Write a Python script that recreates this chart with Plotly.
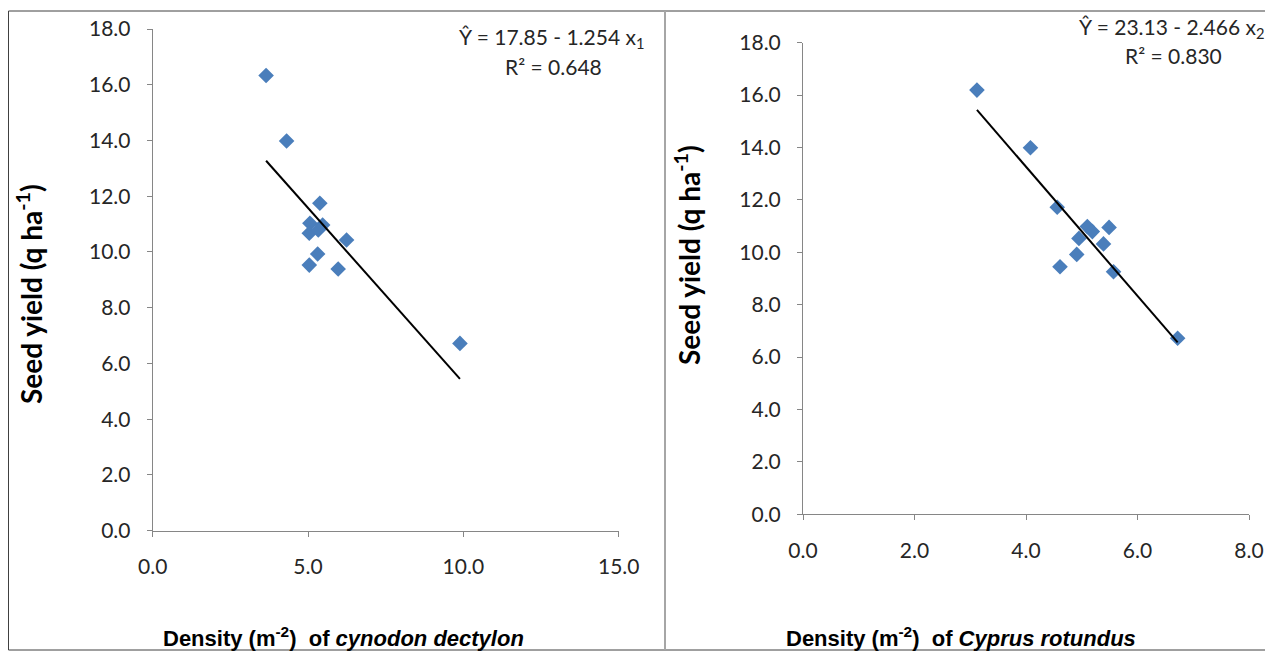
import plotly.graph_objects as go

# ---- data ----
cd_density = [3.65, 4.31, 5.38, 5.06, 5.47, 5.04, 5.33, 6.24, 5.31, 5.04, 5.97, 9.89]
cd_yield = [16.33, 13.98, 11.75, 11.03, 10.97, 10.67, 10.79, 10.43, 9.93, 9.53, 9.39, 6.72]
cr_density = [3.12, 4.08, 4.56, 5.10, 5.19, 5.49, 4.95, 5.39, 4.91, 4.61, 5.57, 6.72]
cr_yield = [16.19, 13.99, 11.72, 10.98, 10.79, 10.95, 10.53, 10.32, 9.92, 9.45, 9.26, 6.72]
cd_coef = [17.85, -1.254]
cr_coef = [23.13, -2.466]
eq_left = ["Ŷ = 17.85 - 1.254 x<sub>1</sub>", "R² = 0.648"]
eq_right = ["Ŷ = 23.13 - 2.466 x<sub>2</sub>", "R² = 0.830"]
ytitle = "Seed yield (q ha<sup>-1</sup>)"
xtitle_left = "Density (m<sup>-2</sup>)&nbsp; of <i>cynodon dectylon</i>"
xtitle_right = "Density (m<sup>-2</sup>)&nbsp; of <i>Cyprus rotundus</i>"

# page has an 8px body margin: figure covers page pixels 8..1273 / 8..653
OFF = 8
W, H = 1273 - OFF, 653 - OFF
BLUE = "#4a7ebb"
AXC = "#868686"

def fx(px):
    return (px - OFF) / W

def fy(py):
    return 1 - (py - OFF) / H

def fit_line(xs, coef):
    x0, x1 = min(xs), max(xs)
    return [x0, x1], [coef[0] + coef[1] * x0, coef[0] + coef[1] * x1]

fig = go.Figure()
fig.add_trace(go.Scatter(x=cd_density, y=cd_yield, mode="markers",
                         marker=dict(symbol="diamond", size=12, color=BLUE),
                         xaxis="x", yaxis="y", showlegend=False))
lx, ly = fit_line(cd_density, cd_coef)
fig.add_trace(go.Scatter(x=lx, y=ly, mode="lines", line=dict(color="black", width=2),
                         xaxis="x", yaxis="y", showlegend=False))
fig.add_trace(go.Scatter(x=cr_density, y=cr_yield, mode="markers",
                         marker=dict(symbol="diamond", size=12, color=BLUE),
                         xaxis="x2", yaxis="y2", showlegend=False))
rx, ry = fit_line(cr_density, cr_coef)
fig.add_trace(go.Scatter(x=rx, y=ry, mode="lines", line=dict(color="black", width=2),
                         xaxis="x2", yaxis="y2", showlegend=False))

tickfont = dict(family="Lato", size=21, color="#262626")
common = dict(showline=True, linecolor=AXC, linewidth=1, ticks="outside", ticklen=5,
              tickcolor=AXC, showgrid=False, zeroline=False, tickformat=".1f",
              tickfont=tickfont, ticklabelstandoff=12, automargin=False)

fig.update_layout(
    template="none",
    width=W, height=H, autosize=False,
    margin=dict(l=0, r=0, t=0, b=0, pad=0, autoexpand=False),
    paper_bgcolor="white", plot_bgcolor="white",
    xaxis=dict(domain=[fx(152.7), fx(618.7)], range=[0, 15], dtick=5, anchor="y", **common),
    yaxis=dict(domain=[fy(530.7), fy(29)], range=[0, 18], dtick=2, anchor="x", **common),
    xaxis2=dict(domain=[fx(803), fx(1249)], range=[0, 8], dtick=2, anchor="y2", **common),
    yaxis2=dict(domain=[fy(514.3), fy(42.7)], range=[0, 18], dtick=2, anchor="x2", **common),
)

ann = []
tfont = dict(family="Lato", size=28, color="black")
xfont = dict(family="Liberation Sans", size=22, color="black")
eqfont = dict(family="Lato", size=21, color="#262626")
def pa(x, y, text, font, angle=0):
    ann.append(dict(x=fx(x), y=fy(y), xref="paper", yref="paper", text=text,
                    showarrow=False, font=font, textangle=angle,
                    xanchor="center", yanchor="middle"))

pa(29, 294, "<b>" + ytitle + "</b>", tfont, -90)
pa(688, 255, "<b>" + ytitle + "</b>", tfont, -90)
pa(343, 637, "<b>" + xtitle_left + "</b>", xfont)
pa(961, 637, "<b>" + xtitle_right + "</b>", xfont)
pa(551, 38, eq_left[0], eqfont)
pa(553, 66, eq_left[1], eqfont)
pa(1171, 28, eq_right[0], eqfont)
pa(1173, 55, eq_right[1], eqfont)
fig.update_layout(annotations=ann)

fig.update_layout(shapes=[
    dict(type="rect", xref="paper", yref="paper", x0=fx(8.5), x1=fx(1270),
         y0=fy(650), y1=fy(11), line=dict(color="#404040", width=1)),
    dict(type="line", xref="paper", yref="paper", x0=fx(665), x1=fx(665),
         y0=fy(650), y1=fy(11), line=dict(color="#a6a6a6", width=2)),
])

fig.write_html("out.html")
